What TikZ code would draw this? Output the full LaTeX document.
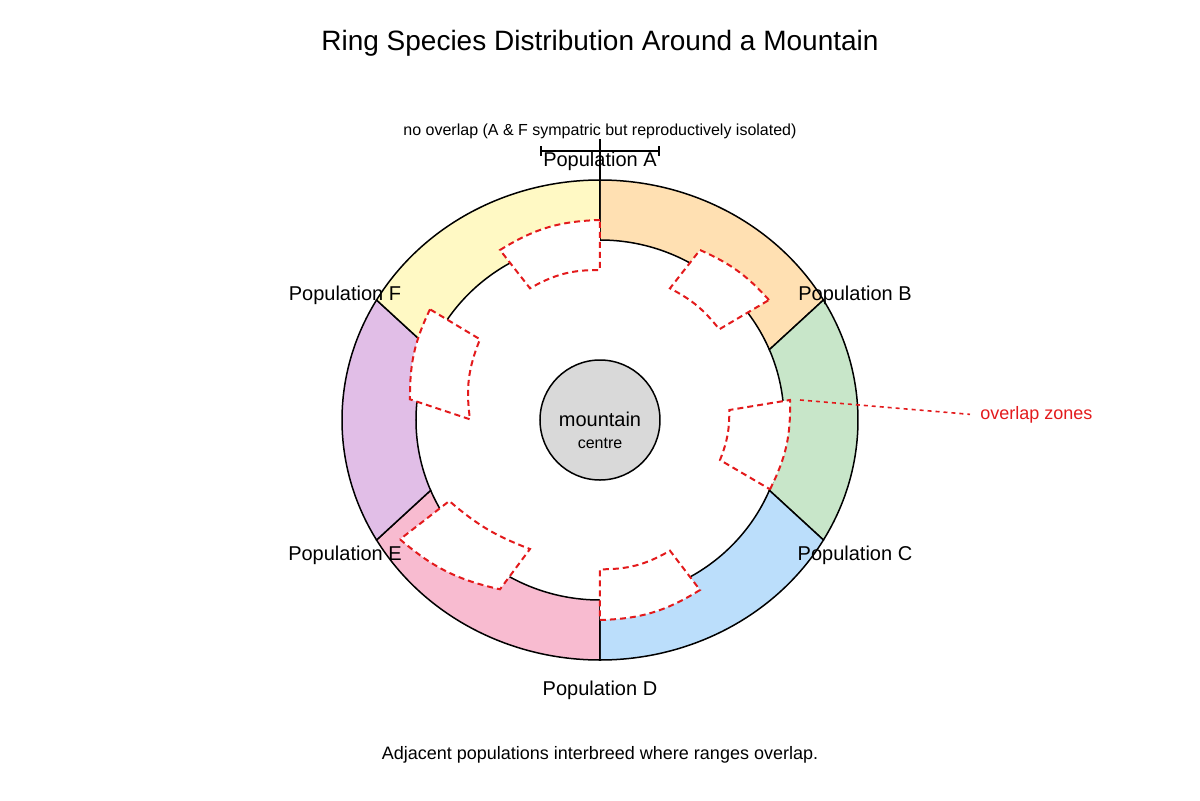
\documentclass[tikz,border=0pt]{standalone}
\usepackage{fontspec}
\setmainfont{Liberation Sans}
\usepackage{xcolor}
\usetikzlibrary{arrows.meta}

\definecolor{popA}{HTML}{FFE0B2}
\definecolor{popB}{HTML}{C8E6C9}
\definecolor{popC}{HTML}{BBDEFB}
\definecolor{popD}{HTML}{F8BBD0}
\definecolor{popE}{HTML}{E1BEE7}
\definecolor{popF}{HTML}{FFF9C4}
\definecolor{rock}{HTML}{D9D9D9}
\definecolor{zonered}{HTML}{E31A1C}

\begin{document}
\begin{tikzpicture}[x=0.5pt, y=0.5pt,
    ring/.style={draw=black, line width=0.75pt},
    zone/.style={draw=zonered, fill=white, line width=1pt, dash pattern=on 3pt off 2pt},
    poplabel/.style={anchor=base, inner sep=0pt, font=\fontsize{10}{12}\selectfont}]
\useasboundingbox (-600,-380) rectangle (600,420);

% Title
\node[anchor=base, font=\fontsize{14}{17}\selectfont] (title) at (0,370) {Ring Species Distribution Around a Mountain};

% Ring of populations: colour / outer start, end / inner start, end
\foreach \col/\oa/\ob/\ia/\ib in {popA/90/30/23/90, popB/30/-30/-23/23, popC/-30/-90/-90/-23,
    popD/-90/-150/-157/-90, popE/-150/-210/-203/-157, popF/150/90/90/157} {
  \filldraw[ring, fill=\col] (\oa:258 and 240)
    arc[start angle=\oa, end angle=\ob, x radius=258, y radius=240]
    -- (\ia:184 and 180)
    arc[start angle=\ia, end angle=\ib, x radius=184, y radius=180] -- cycle;
}

% Overlap zones
\draw[zone] (0,200) to[bend right=15] (-100,170) -- (-70,131.7) to[bend left=15] (0,150) -- cycle;
\draw[zone] (169,120) to[bend right=12] (100,170) -- (70,131.7) to[bend left=12] (119.3,90.7) -- cycle;
\draw[zone] (170,-69.3) to[bend right=14] (190,20) -- (129.3,10) to[bend left=11] (120,-40) -- cycle;
\draw[zone] (0,-200) to[bend right=15] (100,-170) -- (70,-130.7) to[bend left=15] (0,-149.3) -- cycle;
\draw[zone] (-200,-119.3) to[bend right=14] (-100,-169.3) -- (-70,-129) to[bend left=10] (-150.7,-81) -- cycle;
\draw[zone] (-170,110.7) to[bend right=13] (-190,20.7) -- (-130,0.7) to[bend left=15] (-120,80.7) -- cycle;

% No overlap between A and F
\node[anchor=base, inner sep=0pt, font=\fontsize{8}{10}\selectfont] (nooverlap) at (0,285) {no overlap (A \& F sympatric but reproductively isolated)};
\coordinate (ringtop) at (90:258 and 240);
\draw[line width=1pt] (ringtop) -- (nooverlap.south);
\draw[line width=1pt, {Bar[width=5pt]}-{Bar[width=5pt]}] (-60,269) -- (60,269);

% Mountain
\node[circle, draw, fill=rock, line width=0.75pt, minimum size=60pt, inner sep=0pt] (mountain) at (0,0) {};
\node[anchor=base, font=\fontsize{10}{12}\selectfont] (mtitle) at (0,-6) {mountain};
\node[anchor=base, font=\fontsize{8}{10}\selectfont] (mnote) at (0,-28) {centre};

% Population labels
\foreach \p/\x/\y in {A/0/254, B/255/120, C/255/-140, D/0/-275, E/-255/-140, F/-255/120} {
  \node[poplabel] (lab\p) at (\x,\y) {Population \p};
}

% Overlap zones label
\node[anchor=base west, inner xsep=5pt, inner ysep=0pt, text=zonered, font=\fontsize{9}{11}\selectfont] (zonelabel) at (370,1) {overlap zones};
\coordinate (zonetip) at (200,20);
\draw[zonered, line width=0.8pt, dash pattern=on 2pt off 2pt] (zonetip) -- (zonelabel.west);

% Caption
\node[anchor=base, font=\fontsize{9}{11}\selectfont] (caption) at (0,-339.5) {Adjacent populations interbreed where ranges overlap.};
\end{tikzpicture}
\end{document}
